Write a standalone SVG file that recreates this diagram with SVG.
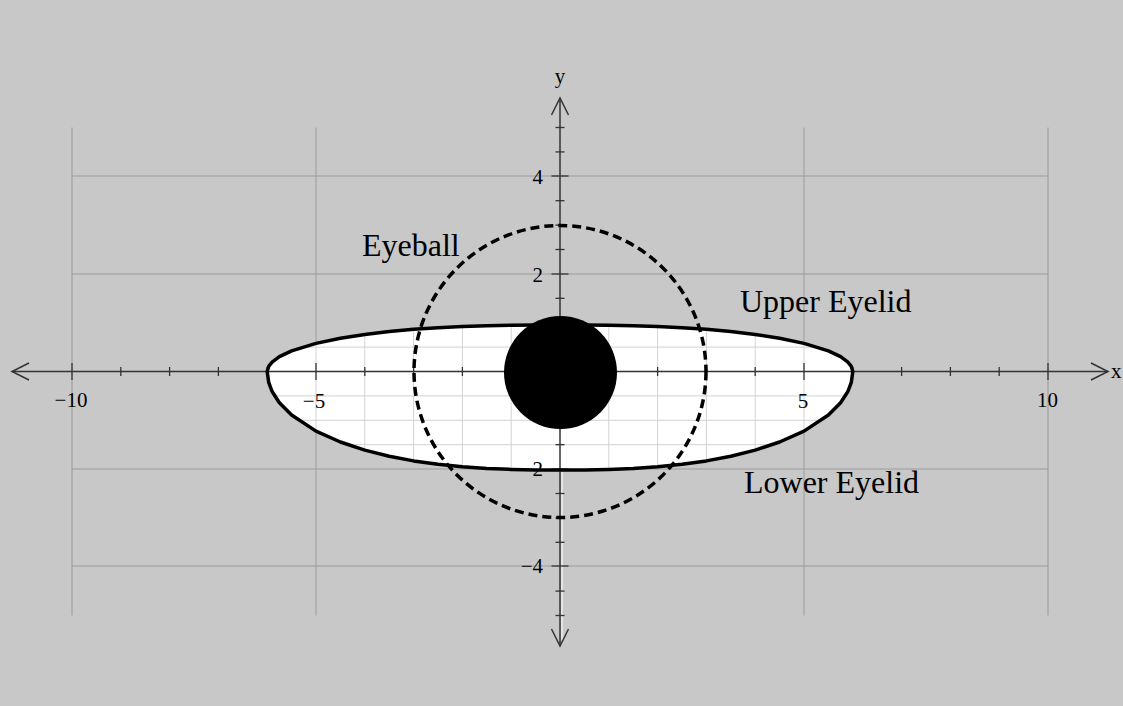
<svg xmlns="http://www.w3.org/2000/svg" width="1123" height="706" viewBox="0 0 1123 706">
<style>
.grid{stroke:#9a9a9a;stroke-width:1;fill:none}
.minor{stroke:#d2d2d2;stroke-width:1;fill:none}
.axis{stroke:#333;stroke-width:1.5;fill:none}
.tick{stroke:#333;stroke-width:1.3}
.lbl{font-family:"Liberation Serif","Times New Roman",serif;font-size:21px;fill:#000}
.big{font-family:"Liberation Serif","Times New Roman",serif;font-size:32px;fill:#000}
</style>
<defs>
<path id="eyeShape" d="M267.2,371.5 L268.7,366.3 L272.1,362.1 L279.4,356.7 L291.6,350.9 L316,343.4 L340.4,338.2 L364.8,334.4 L389.2,331.5 L413.6,329.3 L438,327.7 L462.4,326.5 L486.8,325.7 L511.2,325.3 L535.6,325 L560,325 L584.4,325 L608.8,325.3 L633.2,325.7 L657.6,326.5 L682,327.7 L706.4,329.3 L730.8,331.5 L755.2,334.4 L779.6,338.2 L804,343.4 L828.4,350.9 L840.6,356.7 L847.9,362.1 L851.3,366.3 L852.8,371.5 L851.3,382.4 L847.9,391.5 L840.6,402.8 L828.4,415 L804,431.1 L779.6,442 L755.2,450.1 L730.8,456.2 L706.4,460.9 L682,464.3 L657.6,466.8 L633.2,468.5 L608.8,469.4 L584.4,469.9 L560,470 L535.6,469.9 L511.2,469.4 L486.8,468.5 L462.4,466.8 L438,464.3 L413.6,460.9 L389.2,456.2 L364.8,450.1 L340.4,442 L316,431.1 L291.6,415 L279.4,402.8 L272.1,391.5 L268.7,382.4 Z"/>
<clipPath id="eyeClip"><use href="#eyeShape"/></clipPath>
</defs>
<rect width="1123" height="706" fill="#c8c8c8"/>
<g id="grid" class="grid">
<line x1="72" y1="127.5" x2="72" y2="615.5"/>
<line x1="316" y1="127.5" x2="316" y2="615.5"/>
<line x1="804" y1="127.5" x2="804" y2="615.5"/>
<line x1="1048" y1="127.5" x2="1048" y2="615.5"/>
<line x1="72" y1="176" x2="1048" y2="176"/>
<line x1="72" y1="274" x2="1048" y2="274"/>
<line x1="72" y1="469" x2="1048" y2="469"/>
<line x1="72" y1="566" x2="1048" y2="566"/>
</g>
<g id="eye-fill">
<use href="#eyeShape" fill="#fff"/>
<g class="minor" clip-path="url(#eyeClip)">
<line x1="267.2" y1="300" x2="267.2" y2="480"/>
<line x1="316" y1="300" x2="316" y2="480"/>
<line x1="364.8" y1="300" x2="364.8" y2="480"/>
<line x1="413.6" y1="300" x2="413.6" y2="480"/>
<line x1="462.4" y1="300" x2="462.4" y2="480"/>
<line x1="511.2" y1="300" x2="511.2" y2="480"/>
<line x1="608.8" y1="300" x2="608.8" y2="480"/>
<line x1="657.6" y1="300" x2="657.6" y2="480"/>
<line x1="706.4" y1="300" x2="706.4" y2="480"/>
<line x1="755.2" y1="300" x2="755.2" y2="480"/>
<line x1="804" y1="300" x2="804" y2="480"/>
<line x1="852.8" y1="300" x2="852.8" y2="480"/>
<line x1="260" y1="347.1" x2="860" y2="347.1"/>
<line x1="260" y1="395.9" x2="860" y2="395.9"/>
<line x1="260" y1="420.3" x2="860" y2="420.3"/>
<line x1="260" y1="444.7" x2="860" y2="444.7"/>
</g>
</g>
<g id="axes">
<line class="axis" x1="12" y1="371.5" x2="1108" y2="371.5"/>
<line class="axis" x1="560" y1="98" x2="560" y2="646"/>
<line x1="562" y1="472" x2="562" y2="640" stroke="#fff" stroke-width="1"/>
<path class="axis" d="M29,363 L12,371.5 L29,380 M1091,363 L1108,371.5 L1091,380 M551.5,115 L560,98 L568.5,115 M551.5,629 L560,646 L568.5,629"/>
<g class="tick">
<line x1="72" y1="363" x2="72" y2="380"/><line x1="316" y1="363" x2="316" y2="380"/><line x1="804" y1="363" x2="804" y2="380"/><line x1="1048" y1="363" x2="1048" y2="380"/>
<line x1="120.8" y1="367" x2="120.8" y2="376"/><line x1="169.6" y1="367" x2="169.6" y2="376"/><line x1="218.4" y1="367" x2="218.4" y2="376"/><line x1="267.2" y1="367" x2="267.2" y2="376"/>
<line x1="364.8" y1="367" x2="364.8" y2="376"/><line x1="413.6" y1="367" x2="413.6" y2="376"/><line x1="462.4" y1="367" x2="462.4" y2="376"/><line x1="511.2" y1="367" x2="511.2" y2="376"/>
<line x1="608.8" y1="367" x2="608.8" y2="376"/><line x1="657.6" y1="367" x2="657.6" y2="376"/><line x1="706.4" y1="367" x2="706.4" y2="376"/><line x1="755.2" y1="367" x2="755.2" y2="376"/>
<line x1="852.8" y1="367" x2="852.8" y2="376"/><line x1="901.6" y1="367" x2="901.6" y2="376"/><line x1="950.4" y1="367" x2="950.4" y2="376"/><line x1="999.2" y1="367" x2="999.2" y2="376"/>
<line x1="551.5" y1="176" x2="568.5" y2="176"/><line x1="551.5" y1="274" x2="568.5" y2="274"/><line x1="551.5" y1="469" x2="568.5" y2="469"/><line x1="551.5" y1="566" x2="568.5" y2="566"/>
<line x1="555.5" y1="127.5" x2="564.5" y2="127.5"/><line x1="555.5" y1="151.9" x2="564.5" y2="151.9"/><line x1="555.5" y1="200.7" x2="564.5" y2="200.7"/><line x1="555.5" y1="225.1" x2="564.5" y2="225.1"/><line x1="555.5" y1="249.5" x2="564.5" y2="249.5"/><line x1="555.5" y1="298.3" x2="564.5" y2="298.3"/><line x1="555.5" y1="322.7" x2="564.5" y2="322.7"/><line x1="555.5" y1="347.1" x2="564.5" y2="347.1"/>
<line x1="555.5" y1="395.9" x2="564.5" y2="395.9"/><line x1="555.5" y1="420.3" x2="564.5" y2="420.3"/><line x1="555.5" y1="444.7" x2="564.5" y2="444.7"/><line x1="555.5" y1="493.5" x2="564.5" y2="493.5"/><line x1="555.5" y1="517.9" x2="564.5" y2="517.9"/><line x1="555.5" y1="542.3" x2="564.5" y2="542.3"/><line x1="555.5" y1="591.1" x2="564.5" y2="591.1"/><line x1="555.5" y1="615.5" x2="564.5" y2="615.5"/>
</g>
</g>
<g id="pupil"><circle cx="560.5" cy="372.5" r="56.5" fill="#000"/></g>
<g id="eyelids"><use href="#eyeShape" fill="none" stroke="#000" stroke-width="3.5" stroke-linejoin="round"/></g>
<g id="eyeball"><circle cx="560" cy="371.5" r="146" fill="none" stroke="#000" stroke-width="3.5" stroke-dasharray="9 5"/></g>
<g id="axis-labels" class="lbl">
<text x="71" y="407" text-anchor="middle">−10</text>
<text x="314" y="408" text-anchor="middle">−5</text>
<text x="803" y="408" text-anchor="middle">5</text>
<text x="1047.5" y="407" text-anchor="middle">10</text>
<text x="543" y="184" text-anchor="end">4</text>
<text x="543" y="282" text-anchor="end">2</text>
<text x="543" y="476" text-anchor="end">−2</text>
<text x="543" y="573" text-anchor="end">−4</text>
<text x="560" y="83" text-anchor="middle">y</text>
<text x="1111" y="378">x</text>
</g>
<g id="labels" class="big">
<text x="362" y="256">Eyeball</text>
<text x="740" y="312">Upper Eyelid</text>
<text x="744" y="493">Lower Eyelid</text>
</g>
</svg>
